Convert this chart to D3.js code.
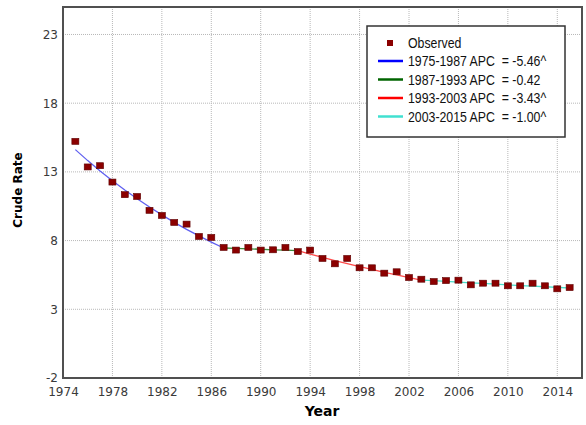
<!DOCTYPE html>
<html>
<head>
<meta charset="utf-8">
<script src="https://cdn.jsdelivr.net/npm/d3@7"></script>
<style>
  body { margin: 0; background: #fff; }
  svg { display: block; }
</style>
</head>
<body>
<div id="chart"></div>
<script>
// observed crude rates, 1975-2015
const years = d3.range(1975, 2016);
const observed = [15.22, 13.36, 13.45, 12.26, 11.34, 11.21, 10.2, 9.83, 9.32, 9.2,
    8.3, 8.23, 7.5, 7.31, 7.5, 7.31, 7.33, 7.5, 7.2, 7.31,
    6.7, 6.31, 6.7, 6.02, 6.02, 5.63, 5.73, 5.31, 5.19, 5.02,
    5.09, 5.12, 4.78, 4.9, 4.9, 4.71, 4.71, 4.9, 4.71, 4.49, 4.58];

// joinpoint segments (fitted values per year)
const segLabels = ["1975-1987 APC  = -5.46^", "1987-1993 APC  = -0.42",
    "1993-2003 APC  = -3.43^", "2003-2015 APC  = -1.00^"];
const segYears = [d3.range(1975, 1988), d3.range(1987, 1994), d3.range(1993, 2004), d3.range(2003, 2016)];
const segFitted = [
    [14.62, 13.82, 13.07, 12.36, 11.68, 11.04, 10.44, 9.87, 9.33, 8.82, 8.34, 7.89, 7.46],
    [7.46, 7.43, 7.40, 7.37, 7.33, 7.30, 7.27],
    [7.27, 7.02, 6.78, 6.55, 6.32, 6.11, 5.90, 5.69, 5.50, 5.31, 5.13],
    [5.13, 5.08, 5.03, 4.98, 4.93, 4.88, 4.83, 4.78, 4.73, 4.69, 4.64, 4.59, 4.55]
];
const legendColors = ["#0000ff", "#006400", "#ff0000", "#40e0d0"];
const plotColors = ["#6060f0", "#3c8c3c", "#ff4a4a", "#48dcc8"];

const xTicks = d3.range(1974, 2015, 4);
const yTicks = [-2, 3, 8, 13, 18, 23];

const width = 586, height = 425;
const margin = { top: 7, right: 4, bottom: 47, left: 63 };

const svg = d3.select("#chart").append("svg")
    .attr("width", width)
    .attr("height", height);

const x = d3.scaleLinear()
    .domain([1974, 2016])
    .range([margin.left, width - margin.right]);

const y = d3.scaleLinear()
    .domain([-2, 25])
    .range([height - margin.bottom, margin.top]);

// grid
svg.append("g")
    .selectAll("line")
    .data(xTicks.slice(1))
    .join("line")
    .attr("x1", d => x(d)).attr("x2", d => x(d))
    .attr("y1", y(25)).attr("y2", y(-2))
    .attr("stroke", "#b8b8b8")
    .attr("stroke-dasharray", "1,1");

svg.append("g")
    .selectAll("line")
    .data(yTicks.slice(1))
    .join("line")
    .attr("x1", x(1974)).attr("x2", x(2016))
    .attr("y1", d => y(d)).attr("y2", d => y(d))
    .attr("stroke", "#b8b8b8")
    .attr("stroke-dasharray", "1,1");

// axes (labels only)
const xAxis = svg.append("g")
    .attr("transform", `translate(0,${y(-2)})`)
    .call(d3.axisBottom(x).tickValues(xTicks).tickFormat(d => String(d)).tickSize(0).tickPadding(9));
const yAxis = svg.append("g")
    .attr("transform", `translate(${x(1974)},0)`)
    .call(d3.axisLeft(y).tickValues(yTicks).tickFormat(d => String(d)).tickSize(0).tickPadding(5));

[xAxis, yAxis].forEach(a => {
    a.select(".domain").remove();
    a.selectAll("text")
        .style("font-family", "DejaVu Sans, Verdana, sans-serif")
        .style("font-size", "12px")
        .attr("fill", "#3a3a3a");
});

// frame
svg.append("rect")
    .attr("x", x(1974)).attr("y", y(25))
    .attr("width", x(2016) - x(1974))
    .attr("height", y(-2) - y(25))
    .attr("fill", "none")
    .attr("stroke", "#505050")
    .attr("stroke-width", 2);

// fitted segments
const line = d3.line()
    .x(d => x(d[0]))
    .y(d => y(d[1]));

segFitted.forEach((vals, i) => {
    svg.append("path")
        .datum(vals.map((v, j) => [segYears[i][j], v]))
        .attr("d", line)
        .attr("fill", "none")
        .attr("stroke", plotColors[i])
        .attr("stroke-width", 1.3);
});

// observed points
svg.append("g")
    .selectAll("rect")
    .data(years.map((yr, i) => [yr, observed[i]]))
    .join("rect")
    .attr("x", d => x(d[0]) - 3.5)
    .attr("y", d => y(d[1]) - 3)
    .attr("width", 7)
    .attr("height", 6)
    .attr("fill", "#8b0000")
    .attr("stroke", "#5e0000")
    .attr("stroke-width", 0.6);

// axis titles
svg.append("text")
    .attr("x", 322)
    .attr("y", 416)
    .attr("text-anchor", "middle")
    .style("font-family", "DejaVu Sans, Verdana, sans-serif")
    .style("font-size", "14px")
    .style("font-weight", "bold")
    .text("Year");

svg.append("text")
    .attr("transform", "rotate(-90)")
    .attr("x", -190)
    .attr("y", 22)
    .attr("text-anchor", "middle")
    .style("font-family", "DejaVu Sans, Verdana, sans-serif")
    .style("font-size", "12px")
    .style("font-weight", "bold")
    .text("Crude Rate");

// legend
const legend = svg.append("g").attr("transform", "translate(367,26)");
legend.append("rect")
    .attr("width", 198).attr("height", 111)
    .attr("fill", "#fff")
    .attr("stroke", "#333")
    .attr("stroke-width", 1.5);

const legendFont = "'Liberation Sans', Arial, sans-serif";

legend.append("rect")
    .attr("x", 20).attr("y", 14)
    .attr("width", 6).attr("height", 6)
    .attr("fill", "#8b0000");
legend.append("text")
    .attr("transform", "translate(41,22) scale(0.85,1)")
    .style("font-family", legendFont)
    .style("font-size", "14.5px")
    .attr("fill", "#111")
    .text("Observed");

segLabels.forEach((lab, i) => {
    const yy = 35 + i * 18.5;
    legend.append("line")
        .attr("x1", 11).attr("x2", 36)
        .attr("y1", yy).attr("y2", yy)
        .attr("stroke", legendColors[i])
        .attr("stroke-width", 2.5);
    legend.append("text")
        .attr("transform", `translate(41,${yy + 5}) scale(0.85,1)`)
        .style("font-family", legendFont)
        .style("font-size", "14.5px")
        .style("white-space", "pre")
        .attr("fill", "#111")
        .text(lab);
});
</script>
</body>
</html>
